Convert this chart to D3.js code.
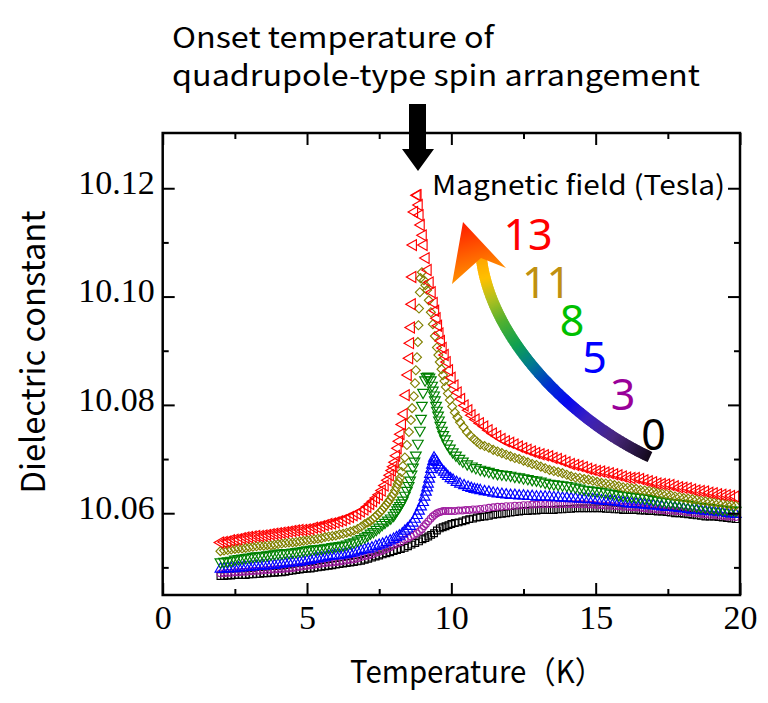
<!DOCTYPE html>
<html>
<head>
<meta charset="utf-8">
<script src="https://cdn.jsdelivr.net/npm/d3@7"></script>
<style>
body { margin: 0; background: #fff; }
svg { display: block; }
</style>
</head>
<body>
<div id="chart"></div>
<script>
// shared temperature grids (K) for the smooth parts of every curve
var tempLow = [2.0, 2.125, 2.25, 2.375, 2.5, 2.625, 2.75, 2.875, 3.0, 3.125, 3.25, 3.375, 3.5, 3.625, 3.75, 3.875, 4.0, 4.125, 4.25, 4.375,
	4.5, 4.625, 4.75, 4.875, 5.0, 5.125, 5.25, 5.375, 5.5, 5.625, 5.75, 5.875, 6.0, 6.125, 6.25, 6.375, 6.5, 6.625, 6.75, 6.875, 7.0];
var tempHigh = [11.0, 11.15, 11.3, 11.45, 11.6, 11.75, 11.9, 12.05, 12.2, 12.35, 12.5, 12.65, 12.8, 12.95, 13.1, 13.25, 13.4, 13.55, 13.7, 13.85,
	14.0, 14.15, 14.3, 14.45, 14.6, 14.75, 14.9, 15.05, 15.2, 15.35, 15.5, 15.65, 15.8, 15.95, 16.1, 16.25, 16.4, 16.55, 16.7, 16.85,
	17.0, 17.15, 17.3, 17.45, 17.6, 17.75, 17.9, 18.05, 18.2, 18.35, 18.5, 18.65, 18.8, 18.95, 19.1, 19.25, 19.4, 19.55, 19.7, 19.85];

// 13 T
var low13 = [10.0546, 10.0547, 10.0548, 10.0550, 10.0551, 10.0552, 10.0554, 10.0555, 10.0556, 10.0557, 10.0558, 10.0558, 10.0559, 10.0560, 10.0561, 10.0562, 10.0563, 10.0564, 10.0565, 10.0566,
	10.0567, 10.0568, 10.0569, 10.0569, 10.0570, 10.0571, 10.0573, 10.0574, 10.0576, 10.0578, 10.0580, 10.0581, 10.0583, 10.0585, 10.0587, 10.0590, 10.0593, 10.0596, 10.0599, 10.0603, 10.0607];
var peak13 = [[7.1, 10.0612], [7.2, 10.0617], [7.3, 10.0622], [7.4, 10.0628], [7.5, 10.0634], [7.6, 10.0642], [7.7, 10.0651], [7.8, 10.0661], [7.88, 10.0670], [7.95, 10.0679], [8.0, 10.0686], [8.05, 10.0694], [8.1, 10.0706], [8.15, 10.0720], [8.2, 10.0733], [8.25, 10.0746], [8.3, 10.0764], [8.36, 10.0783], [8.43, 10.0818], [8.50, 10.0855], [8.55, 10.0886], [8.58, 10.0914], [8.61, 10.0943], [8.64, 10.0986], [8.66, 10.1036], [8.68, 10.1095], [8.72, 10.1156], [8.81, 10.1187],
	[8.84, 10.1187], [8.88, 10.1169], [8.91, 10.1150], [8.95, 10.1132], [9.02, 10.1113], [9.05, 10.1095], [9.12, 10.1071], [9.19, 10.1049], [9.26, 10.1026], [9.33, 10.1008], [9.40, 10.0988], [9.45, 10.0974], [9.50, 10.0960], [9.55, 10.0946], [9.60, 10.0932], [9.65, 10.0918], [9.71, 10.0905], [9.78, 10.0892], [9.85, 10.0879], [9.93, 10.0864], [10.02, 10.0850], [10.12, 10.0836], [10.23, 10.0823], [10.35, 10.0811], [10.47, 10.0799], [10.60, 10.0790], [10.71, 10.0781], [10.85, 10.0773]];
var high13 = [10.0766, 10.0760, 10.0753, 10.0747, 10.0742, 10.0737, 10.0733, 10.0730, 10.0727, 10.0723, 10.0720, 10.0717, 10.0714, 10.0711, 10.0709, 10.0707, 10.0705, 10.0702, 10.0700, 10.0697,
	10.0694, 10.0691, 10.0689, 10.0687, 10.0685, 10.0682, 10.0680, 10.0678, 10.0677, 10.0675, 10.0674, 10.0672, 10.0670, 10.0668, 10.0666, 10.0665, 10.0665, 10.0663, 10.0661, 10.0659,
	10.0657, 10.0655, 10.0654, 10.0653, 10.0652, 10.0650, 10.0648, 10.0647, 10.0646, 10.0644, 10.0642, 10.0641, 10.0640, 10.0638, 10.0637, 10.0635, 10.0634, 10.0633, 10.0632, 10.0631];

// 11 T
var low11 = [10.0530, 10.0531, 10.0532, 10.0533, 10.0534, 10.0535, 10.0535, 10.0536, 10.0537, 10.0538, 10.0539, 10.0540, 10.0540, 10.0541, 10.0541, 10.0542, 10.0543, 10.0544, 10.0545, 10.0546,
	10.0546, 10.0547, 10.0548, 10.0549, 10.0550, 10.0551, 10.0552, 10.0553, 10.0554, 10.0556, 10.0557, 10.0558, 10.0559, 10.0561, 10.0562, 10.0564, 10.0566, 10.0568, 10.0571, 10.0575, 10.0580];
var peak11 = [[7.1, 10.0583], [7.18, 10.0585], [7.27, 10.0589], [7.35, 10.0593], [7.44, 10.0597], [7.53, 10.0602], [7.6, 10.0606], [7.67, 10.0611], [7.74, 10.0615], [7.80, 10.0620], [7.87, 10.0625], [7.93, 10.0631], [8.0, 10.0636], [8.05, 10.0642], [8.1, 10.0648], [8.14, 10.0654], [8.18, 10.0659], [8.22, 10.0665], [8.27, 10.0676], [8.32, 10.0687], [8.39, 10.0703], [8.46, 10.0726], [8.53, 10.0750], [8.60, 10.0772], [8.64, 10.0794], [8.70, 10.0816], [8.74, 10.0840], [8.77, 10.0864], [8.81, 10.0888], [8.84, 10.0916], [8.86, 10.0947], [8.88, 10.0978], [8.91, 10.1008], [8.93, 10.1034],
	[8.98, 10.1045], [9.05, 10.1030], [9.1, 10.1021], [9.16, 10.1012], [9.22, 10.0993], [9.29, 10.0971], [9.36, 10.0949], [9.43, 10.0927], [9.50, 10.0906], [9.55, 10.0892], [9.60, 10.0879], [9.66, 10.0866], [9.71, 10.0855], [9.76, 10.0844], [9.81, 10.0833], [9.88, 10.0821], [9.95, 10.0809], [10.03, 10.0797], [10.12, 10.0786], [10.21, 10.0777], [10.30, 10.0768], [10.42, 10.0759], [10.54, 10.0750], [10.66, 10.0743], [10.78, 10.0737], [10.89, 10.0732]];
var high11 = [10.0727, 10.0724, 10.0721, 10.0717, 10.0714, 10.0711, 10.0708, 10.0705, 10.0702, 10.0700, 10.0697, 10.0694, 10.0691, 10.0689, 10.0686, 10.0683, 10.0680, 10.0678, 10.0676, 10.0674,
	10.0671, 10.0668, 10.0666, 10.0665, 10.0663, 10.0662, 10.0660, 10.0658, 10.0656, 10.0655, 10.0654, 10.0652, 10.0650, 10.0648, 10.0647, 10.0646, 10.0645, 10.0643, 10.0642, 10.0641,
	10.0640, 10.0638, 10.0636, 10.0635, 10.0633, 10.0631, 10.0630, 10.0628, 10.0627, 10.0626, 10.0625, 10.0623, 10.0622, 10.0621, 10.0620, 10.0619, 10.0618, 10.0616, 10.0615, 10.0614];

// 8 T
var low8 = [10.0510, 10.0511, 10.0512, 10.0513, 10.0515, 10.0516, 10.0517, 10.0518, 10.0519, 10.0520, 10.0521, 10.0521, 10.0522, 10.0523, 10.0524, 10.0525, 10.0526, 10.0526, 10.0527, 10.0527,
	10.0528, 10.0529, 10.0530, 10.0531, 10.0532, 10.0533, 10.0534, 10.0534, 10.0535, 10.0536, 10.0537, 10.0538, 10.0539, 10.0540, 10.0541, 10.0543, 10.0545, 10.0547, 10.0550, 10.0553, 10.0556];
var peak8 = [[7.1, 10.0559], [7.2, 10.0563], [7.3, 10.0566], [7.4, 10.0570], [7.5, 10.0574], [7.6, 10.0579], [7.7, 10.0583], [7.8, 10.0587], [7.9, 10.0591], [8.0, 10.0596], [8.06, 10.0601], [8.12, 10.0606], [8.17, 10.0610], [8.22, 10.0614], [8.27, 10.0619], [8.32, 10.0624], [8.39, 10.0633], [8.46, 10.0642], [8.52, 10.0651], [8.57, 10.0661], [8.62, 10.0672], [8.67, 10.0685], [8.72, 10.0696], [8.77, 10.0707], [8.84, 10.0729], [8.91, 10.0753], [8.95, 10.0775], [8.98, 10.0799], [9.02, 10.0823], [9.09, 10.0846], [9.14, 10.0852], [9.19, 10.0853], [9.24, 10.0851],
	[9.29, 10.0846], [9.33, 10.0836], [9.36, 10.0827], [9.40, 10.0818], [9.43, 10.0809], [9.47, 10.0799], [9.50, 10.0790], [9.54, 10.0781], [9.57, 10.0772], [9.62, 10.0762], [9.67, 10.0753], [9.72, 10.0745], [9.78, 10.0737], [9.86, 10.0728], [9.95, 10.0720], [10.05, 10.0713], [10.16, 10.0707], [10.28, 10.0701], [10.40, 10.0696], [10.55, 10.0691], [10.71, 10.0687], [10.85, 10.0684]];
var high8 = [10.0681, 10.0679, 10.0677, 10.0675, 10.0673, 10.0672, 10.0671, 10.0670, 10.0668, 10.0667, 10.0665, 10.0664, 10.0662, 10.0661, 10.0659, 10.0657, 10.0655, 10.0654, 10.0653, 10.0652,
	10.0651, 10.0650, 10.0648, 10.0646, 10.0644, 10.0643, 10.0642, 10.0641, 10.0640, 10.0639, 10.0637, 10.0636, 10.0634, 10.0633, 10.0632, 10.0631, 10.0630, 10.0629, 10.0628, 10.0627,
	10.0625, 10.0624, 10.0622, 10.0621, 10.0620, 10.0619, 10.0618, 10.0617, 10.0616, 10.0615, 10.0613, 10.0612, 10.0611, 10.0610, 10.0609, 10.0608, 10.0607, 10.0607, 10.0606, 10.0605];

// 5 T
var low5 = [10.0497, 10.0497, 10.0498, 10.0498, 10.0498, 10.0499, 10.0499, 10.0500, 10.0500, 10.0501, 10.0502, 10.0502, 10.0503, 10.0503, 10.0504, 10.0504, 10.0505, 10.0506, 10.0507, 10.0508,
	10.0509, 10.0509, 10.0510, 10.0511, 10.0512, 10.0513, 10.0515, 10.0516, 10.0517, 10.0518, 10.0520, 10.0521, 10.0522, 10.0522, 10.0523, 10.0524, 10.0526, 10.0527, 10.0529, 10.0531, 10.0533];
var peak5 = [[7.12, 10.0534], [7.25, 10.0536], [7.38, 10.0539], [7.5, 10.0541], [7.62, 10.0543], [7.75, 10.0546], [7.88, 10.0549], [8.0, 10.0552], [8.1, 10.0555], [8.2, 10.0558], [8.3, 10.0562], [8.39, 10.0567], [8.48, 10.0571], [8.57, 10.0576], [8.66, 10.0582], [8.74, 10.0589], [8.81, 10.0596], [8.88, 10.0604], [8.95, 10.0612], [9.02, 10.0620], [9.07, 10.0630], [9.12, 10.0639], [9.16, 10.0647], [9.19, 10.0654], [9.23, 10.0663], [9.26, 10.0672], [9.30, 10.0681], [9.33, 10.0689], [9.37, 10.0696], [9.40, 10.0702],
	[9.45, 10.0698], [9.50, 10.0694], [9.55, 10.0689], [9.60, 10.0685], [9.67, 10.0680], [9.74, 10.0676], [9.81, 10.0672], [9.88, 10.0668], [9.97, 10.0664], [10.06, 10.0661], [10.18, 10.0657], [10.30, 10.0654], [10.44, 10.0651], [10.58, 10.0648], [10.69, 10.0646], [10.80, 10.0644], [10.9, 10.0643]];
var high5 = [10.0642, 10.0640, 10.0639, 10.0637, 10.0636, 10.0635, 10.0634, 10.0633, 10.0633, 10.0632, 10.0632, 10.0631, 10.0631, 10.0630, 10.0630, 10.0630, 10.0630, 10.0629, 10.0629, 10.0628,
	10.0628, 10.0627, 10.0627, 10.0626, 10.0626, 10.0625, 10.0625, 10.0624, 10.0623, 10.0622, 10.0622, 10.0621, 10.0620, 10.0619, 10.0618, 10.0617, 10.0617, 10.0616, 10.0615, 10.0614,
	10.0614, 10.0613, 10.0612, 10.0611, 10.0611, 10.0610, 10.0609, 10.0608, 10.0607, 10.0606, 10.0606, 10.0605, 10.0604, 10.0603, 10.0603, 10.0602, 10.0601, 10.0600, 10.0599, 10.0598];

// 3 T
var low3 = [10.0489, 10.0489, 10.0490, 10.0490, 10.0491, 10.0491, 10.0492, 10.0492, 10.0493, 10.0493, 10.0494, 10.0494, 10.0495, 10.0495, 10.0496, 10.0496, 10.0497, 10.0497, 10.0498, 10.0498,
	10.0499, 10.0500, 10.0501, 10.0502, 10.0503, 10.0504, 10.0505, 10.0506, 10.0507, 10.0508, 10.0509, 10.0509, 10.0510, 10.0511, 10.0512, 10.0513, 10.0514, 10.0515, 10.0517, 10.0519, 10.0521];
var peak3 = [[7.12, 10.0522], [7.25, 10.0524], [7.38, 10.0527], [7.5, 10.0529], [7.62, 10.0531], [7.75, 10.0534], [7.88, 10.0537], [8.0, 10.0541], [8.12, 10.0544], [8.25, 10.0547], [8.38, 10.0551], [8.5, 10.0554], [8.6, 10.0557], [8.7, 10.0560], [8.8, 10.0563], [8.9, 10.0567], [8.98, 10.0571], [9.05, 10.0576], [9.12, 10.0580], [9.2, 10.0585], [9.28, 10.0590], [9.35, 10.0594], [9.42, 10.0597], [9.5, 10.0600], [9.58, 10.0602], [9.65, 10.0603], [9.72, 10.0604], [9.8, 10.0604], [9.9, 10.0604], [10.0, 10.0604], [10.12, 10.0604], [10.25, 10.0605], [10.38, 10.0605], [10.5, 10.0606], [10.62, 10.0606], [10.75, 10.0607], [10.88, 10.0607]];
var high3 = [10.0608, 10.0609, 10.0610, 10.0611, 10.0612, 10.0612, 10.0613, 10.0613, 10.0614, 10.0614, 10.0615, 10.0615, 10.0616, 10.0616, 10.0617, 10.0617, 10.0617, 10.0617, 10.0617, 10.0617,
	10.0617, 10.0617, 10.0617, 10.0617, 10.0617, 10.0616, 10.0616, 10.0615, 10.0615, 10.0614, 10.0614, 10.0613, 10.0613, 10.0612, 10.0612, 10.0611, 10.0611, 10.0610, 10.0609, 10.0608,
	10.0608, 10.0607, 10.0606, 10.0605, 10.0605, 10.0604, 10.0604, 10.0603, 10.0602, 10.0601, 10.0600, 10.0599, 10.0598, 10.0597, 10.0597, 10.0596, 10.0595, 10.0594, 10.0594, 10.0593];

// 0 T
var low0 = [10.0484, 10.0484, 10.0485, 10.0485, 10.0486, 10.0486, 10.0486, 10.0486, 10.0487, 10.0487, 10.0488, 10.0488, 10.0489, 10.0489, 10.0490, 10.0490, 10.0491, 10.0491, 10.0492, 10.0493,
	10.0494, 10.0495, 10.0496, 10.0497, 10.0498, 10.0498, 10.0499, 10.0500, 10.0501, 10.0502, 10.0503, 10.0504, 10.0505, 10.0506, 10.0507, 10.0508, 10.0509, 10.0510, 10.0511, 10.0512, 10.0514];
var peak0 = [[7.12, 10.0516], [7.25, 10.0518], [7.38, 10.0520], [7.5, 10.0522], [7.62, 10.0524], [7.75, 10.0526], [7.88, 10.0528], [8.0, 10.0530], [8.12, 10.0532], [8.25, 10.0534], [8.38, 10.0536], [8.5, 10.0539], [8.62, 10.0542], [8.75, 10.0545], [8.88, 10.0548], [9.0, 10.0552], [9.1, 10.0554], [9.2, 10.0557], [9.3, 10.0560], [9.4, 10.0563], [9.5, 10.0568], [9.6, 10.0572], [9.7, 10.0574], [9.8, 10.0576], [9.9, 10.0578], [10.0, 10.0580], [10.12, 10.0582], [10.25, 10.0583], [10.38, 10.0585], [10.5, 10.0587], [10.62, 10.0589], [10.75, 10.0590], [10.88, 10.0592]];
var high0 = [10.0593, 10.0594, 10.0595, 10.0597, 10.0598, 10.0599, 10.0600, 10.0601, 10.0602, 10.0603, 10.0604, 10.0604, 10.0605, 10.0605, 10.0606, 10.0606, 10.0606, 10.0606, 10.0607, 10.0607,
	10.0608, 10.0608, 10.0609, 10.0609, 10.0609, 10.0609, 10.0609, 10.0609, 10.0609, 10.0608, 10.0608, 10.0607, 10.0607, 10.0606, 10.0606, 10.0606, 10.0606, 10.0605, 10.0605, 10.0604,
	10.0604, 10.0603, 10.0603, 10.0602, 10.0601, 10.0600, 10.0600, 10.0599, 10.0598, 10.0597, 10.0596, 10.0595, 10.0594, 10.0594, 10.0594, 10.0593, 10.0592, 10.0591, 10.0590, 10.0589];

var fieldLabels = ["0", "3", "5", "8", "11", "13"];
var xTicks = [0, 5, 10, 15, 20];
var xMinor = [2.5, 7.5, 12.5, 17.5];
var yTicks = [10.06, 10.08, 10.10, 10.12];
var yMinor = [10.05, 10.07, 10.09, 10.11];

function series(low, peak, high)
{
	return tempLow.map(function(t, i) { return { x: t, y: low[i] }; })
		.concat(peak.map(function(p) { return { x: p[0], y: p[1] }; }))
		.concat(tempHigh.map(function(t, i) { return { x: t, y: high[i] }; }));
}

var data = [series(low0, peak0, high0), series(low3, peak3, high3), series(low5, peak5, high5),
	series(low8, peak8, high8), series(low11, peak11, high11), series(low13, peak13, high13)];

// marker look per field (0, 3, 5, 8, 11, 13 T)
var markColor = ["#000000", "#a020a0", "#0000ff", "#008000", "#808000", "#ff0000"];
var markShape = [d3.symbolSquare, d3.symbolCircle, d3.symbolTriangle, d3.symbolTriangle, d3.symbolSquare, d3.symbolTriangle];
var markSize = [45, 36, 50, 50, 40, 52];
var markRotate = [0, 0, 0, 180, 45, -90];
var labelColor = ["#000000", "#990099", "#0000ff", "#00c000", "#c09010", "#ff0000"];

var svg = d3.select("#chart").append("svg")
	.attr("width", 768)
	.attr("height", 703);

var x = d3.scaleLinear().domain([0, 20]).range([162.7, 740]);
var y = d3.scaleLinear().domain([10.0449, 10.1302]).range([595, 133]);

// data markers
data.forEach(function(s, k)
{
	var sym = d3.symbol().type(markShape[k]).size(markSize[k]);
	svg.append("g")
		.selectAll("path")
		.data(s)
		.enter()
		.append("path")
		.attr("d", sym)
		.attr("transform", function(d) { return "translate(" + x(d.x) + "," + y(d.y) + ") rotate(" + markRotate[k] + ")"; })
		.style("fill", "none")
		.style("stroke", markColor[k])
		.style("stroke-width", 1.15);
});

// axes: ticks point inward on all four sides
var serif = "'Liberation Serif', Tinos, 'Times New Roman', 'DejaVu Serif', serif";
function axis(gen, tx, ty, ticks, size, labels)
{
	var g = svg.append("g")
		.attr("transform", "translate(" + tx + "," + ty + ")")
		.call(gen.tickValues(ticks).tickSizeInner(-size).tickSizeOuter(0).tickPadding(labels ? 10 : 0)
			.tickFormat(labels ? labels : ""));
	g.attr("font-family", null).attr("font-size", null);
	g.select(".domain").remove();
	g.selectAll(".tick line").style("stroke", "#000").style("stroke-width", 2);
	g.selectAll(".tick text")
		.style("font-family", serif)
		.style("font-size", "34px")
		.style("fill", "#000");
	return g;
}

axis(d3.axisBottom(x), 0, 595, xTicks, 12, function(d) { return d; });
axis(d3.axisBottom(x), 0, 595, xMinor, 6);
axis(d3.axisTop(x), 0, 133, xTicks, 12);
axis(d3.axisTop(x), 0, 133, xMinor, 6);
var yl = axis(d3.axisLeft(y), 162.7, 0, yTicks, 12, d3.format(".2f"));
yl.selectAll(".tick text").attr("x", -8).attr("dy", "0.15em");
axis(d3.axisLeft(y), 162.7, 0, yMinor, 6);
axis(d3.axisRight(y), 740, 0, yTicks, 12);
axis(d3.axisRight(y), 740, 0, yMinor, 6);

svg.append("rect")
	.attr("x", 162.7).attr("y", 133)
	.attr("width", 740 - 162.7).attr("height", 595 - 133)
	.style("fill", "none").style("stroke", "#000").style("stroke-width", 2.5);

// axis titles
var sans = "'Noto Sans CJK JP', 'Noto Sans', sans-serif";
svg.append("text")
	.attr("x", 350).attr("y", 683)
	.attr("textLength", 254).attr("lengthAdjust", "spacingAndGlyphs")
	.style("font-family", sans).style("font-size", "31px")
	.text("Temperature（K）");

svg.append("text")
	.attr("transform", "translate(45,352) rotate(-90)")
	.attr("text-anchor", "middle")
	.attr("textLength", 283).attr("lengthAdjust", "spacingAndGlyphs")
	.style("font-family", sans).style("font-size", "33px")
	.text("Dielectric constant");

// annotation
svg.append("text")
	.attr("x", 172).attr("y", 48)
	.attr("textLength", 322).attr("lengthAdjust", "spacingAndGlyphs")
	.style("font-family", sans).style("font-size", "29px")
	.text("Onset temperature of");
svg.append("text")
	.attr("x", 172).attr("y", 86)
	.attr("textLength", 528).attr("lengthAdjust", "spacingAndGlyphs")
	.style("font-family", sans).style("font-size", "29px")
	.text("quadrupole-type spin arrangement");

svg.append("polygon")
	.attr("points", "409,104 426,104 426,149 434,149 418,171 402,149 409,149")
	.style("fill", "#000");

svg.append("text")
	.attr("x", 432).attr("y", 195)
	.attr("textLength", 293).attr("lengthAdjust", "spacingAndGlyphs")
	.style("font-family", sans).style("font-size", "27px")
	.text("Magnetic field (Tesla)");

// field numbers beside the arrow
var numPos = [[653.5, 450], [623, 410], [594.5, 373], [572, 336], [546.5, 298], [528, 250]];
svg.append("g")
	.selectAll("text")
	.data(fieldLabels)
	.enter()
	.append("text")
	.attr("x", function(d, i) { return numPos[i][0]; })
	.attr("y", function(d, i) { return numPos[i][1]; })
	.attr("text-anchor", "middle")
	.style("font-family", "'Noto Sans', sans-serif")
	.style("font-size", "43px")
	.style("fill", function(d, i) { return labelColor[i]; })
	.text(function(d) { return d; });

// rainbow arrow: shaft sampled into short coloured pieces
var guide = svg.append("path")
	.attr("d", "M650,457 C572,421 489,338 481,255")
	.style("fill", "none").style("stroke", "none");
var node = guide.node();
var len = node.getTotalLength();
var rainbow = d3.scaleLinear()
	.domain([0, 0.15, 0.27, 0.36, 0.45, 0.55, 0.64, 0.74, 0.83, 0.91, 1])
	.range(["#140a1c", "#4a2880", "#3a20c0", "#0808f0", "#0030d0", "#007a90", "#10a050", "#50b030", "#b0c020", "#ffc000", "#ffa000"]);
var n = 160;
var shaft = svg.append("g");
for (var i = 0; i < n; i++)
{
	var a = node.getPointAtLength(len * i / n);
	var b = node.getPointAtLength(len * Math.min(1, (i + 1.8) / n));
	shaft.append("line")
		.attr("x1", a.x).attr("y1", a.y).attr("x2", b.x).attr("y2", b.y)
		.style("stroke", rainbow(i / n))
		.style("stroke-width", 11);
}

var grad = svg.append("defs").append("linearGradient")
	.attr("id", "headGrad")
	.attr("gradientUnits", "userSpaceOnUse")
	.attr("x1", 479).attr("y1", 280).attr("x2", 463).attr("y2", 222);
grad.append("stop").attr("offset", "0").attr("stop-color", "#ff9800");
grad.append("stop").attr("offset", "1").attr("stop-color", "#ff1a00");

svg.append("polygon")
	.attr("points", "463,222 506,268 481,258 452,284")
	.style("fill", "url(#headGrad)");
</script>
</body>
</html>
